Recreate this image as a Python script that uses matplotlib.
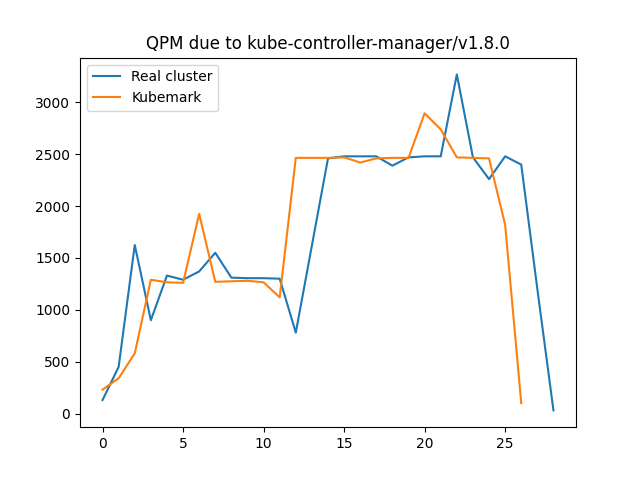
import matplotlib
matplotlib.use("Agg")
import matplotlib.pyplot as plt

real_x = list(range(29))
real = [130, 450, 1625, 900, 1330, 1290, 1370, 1550, 1310, 1305, 1305, 1300, 780, 1620,
        2460, 2480, 2480, 2480, 2390, 2470, 2480, 2480, 3270, 2470, 2260, 2480, 2400, 1200, 30]
kube_x = list(range(27))
kube = [230, 340, 580, 1290, 1265, 1260, 1925, 1270, 1275, 1280, 1265, 1120, 2465, 2465,
        2465, 2470, 2420, 2460, 2465, 2465, 2895, 2740, 2470, 2465, 2460, 1820, 100]

fig, ax = plt.subplots(figsize=(6.4, 4.8), dpi=100)
ax.plot(real_x, real, label="Real cluster")
ax.plot(kube_x, kube, label="Kubemark")
ax.set_title("QPM due to kube-controller-manager/v1.8.0")
ax.legend(loc="upper left")
fig.savefig("out.png")
